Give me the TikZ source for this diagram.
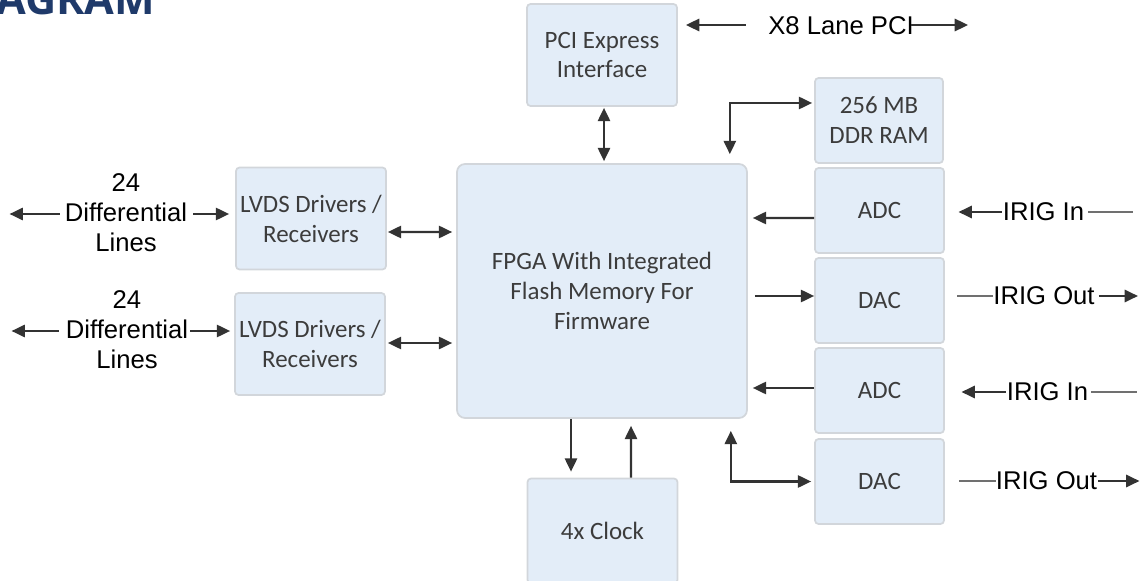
\documentclass[tikz,border=0pt]{standalone}
\usepackage{fontspec}
\setmainfont{Liberation Sans}
\newfontfamily\boxfont{Carlito}
\newfontfamily\headfont{Open Sans}
\usetikzlibrary{calc,arrows.meta}
\definecolor{boxfill}{HTML}{E3EDF8}
\definecolor{boxline}{HTML}{D2D6DB}
\definecolor{boxtext}{HTML}{3C3C3C}
\definecolor{wire}{HTML}{333333}
\definecolor{headblue}{HTML}{1F3A6A}

\begin{document}
\begin{tikzpicture}[x=0.02cm,y=-0.02cm,
        blk/.style={draw=boxline,fill=boxfill,line width=1pt,rounded corners=2pt,minimum width=3cm,minimum height=2.04cm,inner sep=0pt,align=center,text=boxtext,font={\boxfont\fontsize{14.2}{17}\selectfont}},
        small/.style={blk,minimum width=2.58cm,minimum height=1.7cm},
        lbl/.style={inner sep=0pt,align=center,font={\fontsize{14.6}{17}\selectfont}},
        arr/.style={draw=wire,line width=1.2pt,-{Triangle[length=7.6pt,width=7pt]}},
        arrs/.style={draw=wire,line width=1.2pt,{Triangle[length=7.6pt,width=7pt]}-{Triangle[length=7.6pt,width=7pt]}},
        tail/.style={draw=wire!70,line width=0.6pt}]
            \clip (0,0) rectangle (1147,581);

            \node[anchor=base west,inner sep=0pt,text=headblue,font={\headfont\bfseries\fontsize{24.5}{28}\selectfont}] (head) at (-4,15) {AGRAM};

            \node[blk] (pci) at (602,55) {PCI Express\\Interface};
            \node[blk,minimum width=5.8cm,minimum height=5.08cm,rounded corners=4.5pt] (fpga) at (602,291) {
                FPGA With Integrated\\
                Flash Memory For\\
                Firmware
            };
            \node[blk] (lvdsa) at (311,218.5) {LVDS Drivers /\\Receivers};
            \node[blk] (lvdsb) at (310,344) {LVDS Drivers /\\Receivers};
            \node[small,minimum width=2.56cm] (ddr) at (879,120.5) {256 MB\\DDR RAM};
            \node[small] (adca) at (879.5,210.5) {ADC};
            \node[small] (daca) at (879.5,300.5) {DAC};
            \node[small] (adcb) at (879.5,390.5) {ADC};
            \node[small] (dacb) at (879.5,481.5) {DAC};
            \node[blk,minimum height=2.1cm] (clk) at (602.5,531) {4x Clock};

            \node[lbl] (x8) at (841,26) {X8 Lane PCI};
            \node[lbl] (diffa) at (126,213) {24\\Differential\\Lines};
            \node[lbl] (diffb) at (127,330) {24\\Differential\\Lines};
            \node[lbl] (irina) at (1043.5,212) {IRIG In};
            \node[lbl] (iroua) at (1044,296) {IRIG Out};
            \node[lbl] (irinb) at (1047.5,392) {IRIG In};
            \node[lbl] (iroub) at (1046.5,481) {IRIG Out};

            \draw[arr] ($(x8.west)+(-22,-1)$) -- ++(-60,0);
            \draw[arr] ($(x8.east)+(-3,-1)$) -- ++(57,0);
            \draw[arrs] ($(pci.south)+(2,1)$) -- ($(fpga.north)+(2,-2)$);
            \draw[arrs] ($(fpga.north east)+(-18,-9)$) |- ($(ddr.west)+(-2,-17.5)$);

            \draw[arr] ($(diffa.west)+(-5,1)$) -- ++(-50,0);
            \draw[arr] ($(diffa.east)+(6,1)$) -- ($(lvdsa.west)+(-6,-4.5)$);
            \draw[arr] ($(diffb.west)+(-7,1)$) -- ++(-47,0);
            \draw[arr] ($(diffb.east)+(2,1)$) -- ($(lvdsb.west)+(-4,-13)$);
            \draw[arrs] ($(lvdsa.east)+(1,13.5)$) -- ($(fpga.west)+(-4,-59)$);
            \draw[arrs] ($(lvdsb.east)+(2,-1)$) -- ($(fpga.west)+(-4,52)$);

            \draw[arr] ($(adca.west)+(0,7.5)$) -- ($(fpga.east)+(5,-73)$);
            \draw[arr] ($(fpga.east)+(7,5)$) -- ($(daca.west)+(0,-4.5)$);
            \draw[arr] ($(adcb.west)+(0,-2.5)$) -- ($(fpga.east)+(5,97)$);
            \draw[arrs] ($(fpga.south east)+(-17,12)$) |- ($(dacb.west)+(-3,0)$);

            \draw[arr] ($(fpga.south)+(-31,0)$) -- ($(clk.north)+(-31.5,-6)$);
            \draw[arr] ($(clk.north)+(28.5,0)$) -- ($(fpga.south)+(29,7)$);

            \draw[arr] ($(irina.west)+(-1,0)$) -- ++(-43,0);
            \draw[tail] ($(irina.east)+(4,0)$) -- ++(45,0);
            \draw[tail] (iroua.west) -- ++(-36,0);
            \draw[arr] ($(iroua.east)+(4,0)$) -- ++(39,0);
            \draw[arr] ($(irinb.west)+(-1,0)$) -- ++(-44,0);
            \draw[tail] ($(irinb.east)+(3,0)$) -- ++(46,0);
            \draw[tail] (iroub.west) -- ++(-37,0);
            \draw[arr] ($(iroub.east)+(1,0)$) -- ++(41,0);
        \end{tikzpicture}
\end{document}
